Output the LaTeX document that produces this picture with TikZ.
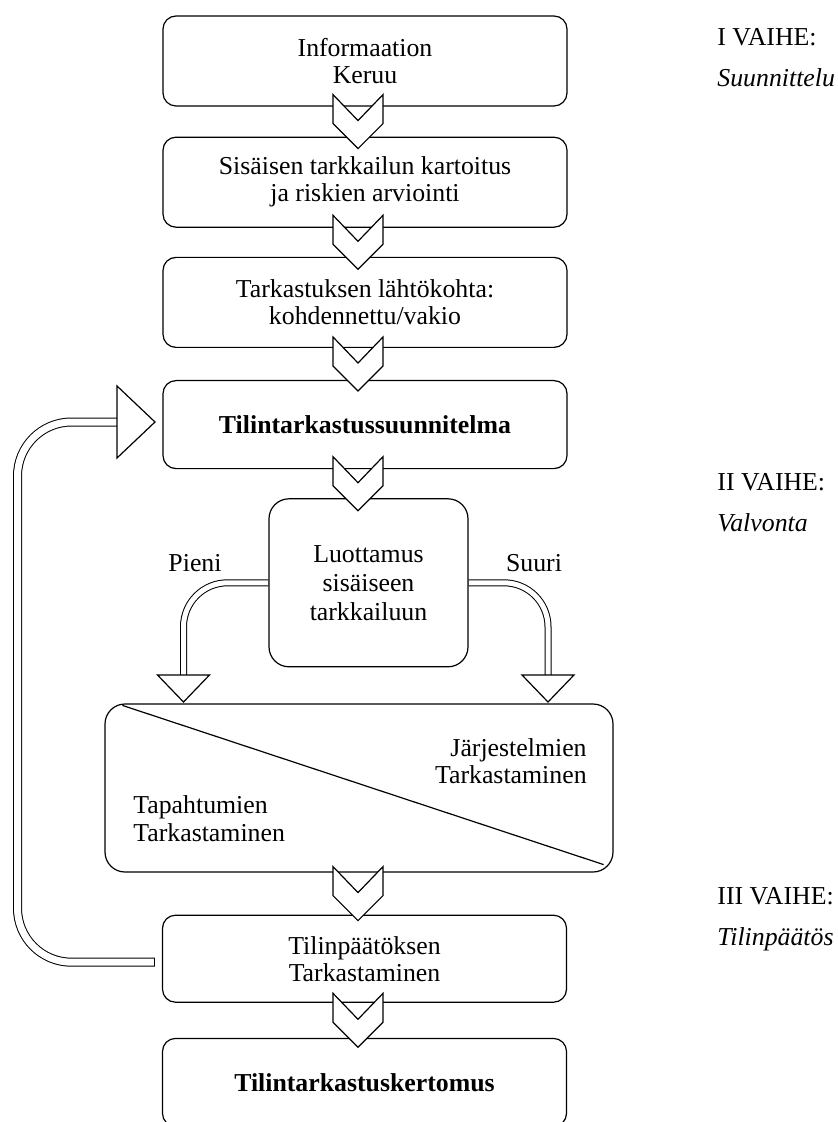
\documentclass[tikz,border=0pt]{standalone}
\usepackage{fontspec}
\setmainfont{Liberation Serif}
\usetikzlibrary{positioning,calc,backgrounds}

\begin{document}
\begin{tikzpicture}[
    x=0.5pt, y=-0.5pt,
    box/.style={rectangle, draw, rounded corners=6.5pt, line width=0.6pt, minimum width=202pt, minimum height=45pt, align=center, font=\fontsize{12.9}{13.5}\selectfont},
    decision/.style={box, rounded corners=10pt, minimum width=99.5pt, minimum height=84pt, font=\fontsize{12.9}{14.5}\selectfont},
    splitbox/.style={box, rounded corners=10pt, minimum width=254pt, minimum height=84pt},
    side/.style={inner sep=0pt, font=\fontsize{12.9}{13.8}\selectfont},
    phase/.style={inner sep=0pt, anchor=base west, font=\fontsize{12.9}{13.5}\selectfont},
    phasename/.style={phase, font=\fontsize{12.9}{13.5}\selectfont\itshape},
    chevron/.style={draw, fill=white, line width=0.6pt, line join=miter},
    dblarrow/.style={draw, line width=0.5pt, double, double distance=2.5pt, rounded corners=22pt},
    dblback/.style={dblarrow, double distance=3.5pt, rounded corners=27pt},
    tiphead/.style={draw, fill=white, line width=0.6pt}
]
\useasboundingbox (0,0) rectangle (837,1122);
\clip (0,0) rectangle (837,1122);

% I vaihe
\node[box] (info) at (365,61) {Informaation\\Keruu};
\node[box, below=15pt of info] (sis) {Sisäisen tarkkailun kartoitus\\ja riskien arviointi};
\node[box, below=14.5pt of sis] (lahto) {Tarkastuksen lähtökohta:\\kohdennettu/vakio};
\node[box, below=16pt of lahto, minimum height=44pt, font=\fontsize{12.9}{13.5}\selectfont\bfseries] (suunn) {Tilintarkastussuunnitelma};

% II vaihe
\node[decision, below=14.5pt of suunn, xshift=1.75pt] (luot) {Luottamus\\sisäiseen\\tarkkailuun};
\node[splitbox, below=18pt of luot, xshift=-4.75pt] (tark) {};
\draw[line width=0.6pt] ($(tark.north west)+(18,2)$) -- ($(tark.south east)+(-10,-8)$);
\node[side, anchor=east, align=right] (jarj) at (587,761) {Järjestelmien\\Tarkastaminen};
\node[side, anchor=west, align=left] (tapa) at (133,818.5) {Tapahtumien\\Tarkastaminen};
\node[side] (pieni) at (195,563) {Pieni};
\node[side] (suuri) at (534,563) {Suuri};

% III vaihe
\node[box, below=21pt of tark, xshift=2.75pt, minimum height=43.5pt] (tilinp) {Tilinpäätöksen\\Tarkastaminen};
\node[box, below=17.5pt of tilinp, minimum height=44pt, font=\fontsize{12.9}{13.5}\selectfont\bfseries] (kert) {Tilintarkastuskertomus};

% Double line connectors
\coordinate (pienitop) at (183.5,675);
\coordinate (suuritop) at (548,675);
\coordinate (fbtip) at (117,422);
\coordinate (fbleft) at (17.5,0);
\coordinate (fbstart) at ($(tilinp.west)+(-7,3.5)$);
\begin{scope}[on background layer]
\draw[dblarrow] (luot.west) -| (pienitop);
\draw[dblarrow] (luot.east) -| (suuritop);
\draw[dblback] (fbstart) -| (fbleft |- fbtip) -- (fbtip);
\end{scope}
\draw[line width=0.5pt] ($(fbstart)+(0,-4)$) -- ($(fbstart)+(0,4)$);
\foreach \t in {pienitop, suuritop}
  \draw[tiphead] ($(\t)+(-26,0)$) -- ($(\t)+(26,0)$) -- ($(\t)+(0,27)$) -- cycle;
\draw[tiphead] ($(fbtip)+(0,-36)$) -- ($(fbtip)+(38,0)$) -- ($(fbtip)+(0,36)$) -- cycle;

% Chevrons
\coordinate (axis) at (358,0);
\foreach \a/\b in {info/sis, sis/lahto, lahto/suunn, suunn/luot, tark/tilinp, tilinp/kert} {
  \path ($(\a.south)!0.5!(\b.north)$) coordinate (m);
  \draw[chevron] ($(axis |- m)+(-25,-27)$) -- ++(25,26) -- ++(25,-26) -- ++(0,29) -- ++(-25,25) -- ++(-25,-25) -- cycle;
}

% Vaiheet
\node[phase] (vaihe1) at (717,45.5) {I VAIHE:};
\node[phasename] (nimi1) at (717,86.5) {Suunnittelu};
\node[phase] (vaihe2) at (717,490) {II VAIHE:};
\node[phasename] (nimi2) at (717,531) {Valvonta};
\node[phase] (vaihe3) at (717,904) {III VAIHE:};
\node[phasename] (nimi3) at (717,945) {Tilinpäätös};

\end{tikzpicture}
\end{document}
